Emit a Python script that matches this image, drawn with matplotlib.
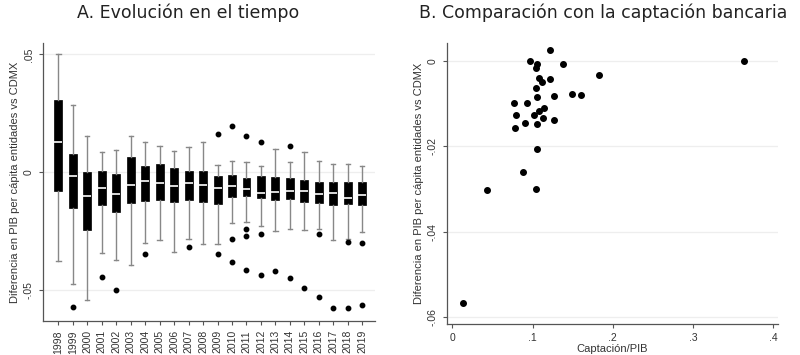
import matplotlib
matplotlib.use('Agg')
import matplotlib.pyplot as plt
import numpy as np

plt.rcParams['font.family'] = ['Liberation Sans', 'DejaVu Sans']

# panel A: box summaries per year
years = list(range(1998, 2020))
whis_hi = [0.0502, 0.0287, 0.0153, 0.0086, 0.0096, 0.0153, 0.0130, 0.0113, 0.0089, 0.0108, 0.0130,
           0.0033, 0.0050, 0.0044, 0.0028, 0.0100, 0.0044, 0.0088, 0.0047, 0.0037, 0.0036, 0.0028]
q3 = [0.0305, 0.0079, 0.0000, 0.0004, -0.0006, 0.0065, 0.0028, 0.0037, 0.0020, 0.0004, 0.0007,
      -0.0017, -0.0013, -0.0022, -0.0014, -0.0020, -0.0025, -0.0034, -0.0042, -0.0041, -0.0041, -0.0041]
med = [0.0130, -0.0014, -0.0102, -0.0066, -0.0090, -0.0052, -0.0038, -0.0045, -0.0058, -0.0047, -0.0055,
       -0.0065, -0.0059, -0.0069, -0.0087, -0.0083, -0.0078, -0.0078, -0.0090, -0.0087, -0.0109, -0.0095]
q1 = [-0.0081, -0.0151, -0.0243, -0.0140, -0.0170, -0.0130, -0.0121, -0.0119, -0.0126, -0.0116, -0.0127,
      -0.0133, -0.0106, -0.0102, -0.0109, -0.0119, -0.0113, -0.0126, -0.0130, -0.0140, -0.0136, -0.0137]
whis_lo = [-0.0377, -0.0472, -0.0540, -0.0342, -0.0370, -0.0391, -0.0300, -0.0285, -0.0338, -0.0281, -0.0304,
           -0.0304, -0.0215, -0.0212, -0.0229, -0.0250, -0.0239, -0.0246, -0.0239, -0.0288, -0.0281, -0.0254]
outliers = [[], [-0.0571], [], [-0.0444], [-0.0497], [], [-0.0345], [], [], [-0.0318], [],
            [0.0163, -0.0345], [0.0198, -0.0281, -0.0380], [0.0156, -0.0239, -0.0268, -0.0413],
            [0.0129, -0.0260, -0.0434], [-0.0420], [0.0113, -0.0448], [-0.0492],
            [-0.0263, -0.0530], [-0.0577], [-0.0297, -0.0575], [-0.0300, -0.0564]]

# panel B: scatter
captacion = [0.1213, 0.0968, 0.1051, 0.1042, 0.1382, 0.3633, 0.1827, 0.1080, 0.1113, 0.1217, 0.1038,
             0.1051, 0.1263, 0.1487, 0.1603, 0.0768, 0.0930, 0.0789, 0.1021, 0.1083, 0.1146, 0.1133,
             0.1266, 0.0905, 0.1051, 0.0785, 0.1059, 0.0880, 0.0436, 0.1042, 0.0137]
diferencia = [0.0026, 0.0000, -0.0006, -0.0017, -0.0007, 0.0000, -0.0033, -0.0039, -0.0050, -0.0042, -0.0064,
              -0.0083, -0.0082, -0.0077, -0.0079, -0.0099, -0.0097, -0.0127, -0.0126, -0.0117, -0.0111, -0.0133,
              -0.0137, -0.0145, -0.0147, -0.0158, -0.0206, -0.0259, -0.0302, -0.0300, -0.0568]

ylab = 'Diferencia en PIB per cápita entidades vs CDMX'
axis_col = '#555555'
grid_col = '#eeeeee'
text_col = '#333333'

def style_axis(ax):
    for s in ['top', 'right']:
        ax.spines[s].set_visible(False)
    for s in ['left', 'bottom']:
        ax.spines[s].set_color(axis_col)
        ax.spines[s].set_linewidth(0.9)
    ax.tick_params(colors=axis_col, labelsize=7.5, length=3, width=0.8, labelcolor=text_col)
    for lab in ax.get_yticklabels():
        lab.set_rotation(90)
        lab.set_va('center')
    ax.yaxis.grid(True, color=grid_col, lw=0.9)
    ax.set_axisbelow(True)

fig = plt.figure(figsize=(8, 3.55), dpi=100)

# A
ax1 = fig.add_axes([43 / 800, 1 - 321 / 355, 332 / 800, 278 / 355])
stats = []
for i, y in enumerate(years):
    stats.append({'med': med[i], 'q1': q1[i], 'q3': q3[i], 'whislo': whis_lo[i],
                  'whishi': whis_hi[i], 'fliers': outliers[i], 'label': str(y)})
pos = np.arange(len(years))
ax1.bxp(stats, positions=pos, widths=0.55, patch_artist=True,
        boxprops=dict(facecolor='black', edgecolor='black', lw=0.5),
        medianprops=dict(color='white', lw=1.2),
        whiskerprops=dict(color='#888888', lw=1.0),
        capprops=dict(color='#888888', lw=1.0), capwidths=0.3,
        flierprops=dict(marker='o', markerfacecolor='black', markeredgecolor='black', markersize=3.2))
ax1.set_xlim(-1.06, len(years) - 1 + 0.88)
ax1.set_ylim(-0.063, 0.0548)
ax1.set_yticks([-0.05, 0, 0.05])
ax1.set_yticklabels(['-.05', '0', '.05'])
ax1.set_xticks(pos)
ax1.set_xticklabels([str(y) for y in years], rotation=90)
ax1.set_ylabel(ylab, fontsize=8, color=text_col, labelpad=3)
style_axis(ax1)
fig.text(188 / 800, 1 - 13 / 355, 'A. Evolución en el tiempo', ha='center', va='center',
         fontsize=12.5, family='DejaVu Sans', color='#222222')

# B
ax2 = fig.add_axes([446.7 / 800, 1 - 324 / 355, 331.3 / 800, 280.7 / 355])
ax2.scatter(captacion, diferencia, s=16, color='black', zorder=3)
ax2.set_xlim(-0.007, 0.406)
ax2.set_ylim(-0.0617, 0.0042)
ax2.set_yticks([-0.06, -0.04, -0.02, 0])
ax2.set_yticklabels(['-.06', '-.04', '-.02', '0'])
ax2.set_xticks([0, 0.1, 0.2, 0.3, 0.4])
ax2.set_xticklabels(['0', '.1', '.2', '.3', '.4'])
ax2.set_xlabel('Captación/PIB', fontsize=8, color=text_col, labelpad=1)
ax2.set_ylabel(ylab, fontsize=8, color=text_col, labelpad=3)
style_axis(ax2)
fig.text(603 / 800, 1 - 13 / 355, 'B. Comparación con la captación bancaria', ha='center', va='center',
         fontsize=12.5, family='DejaVu Sans', color='#222222')

fig.savefig('out.png', dpi=100)
